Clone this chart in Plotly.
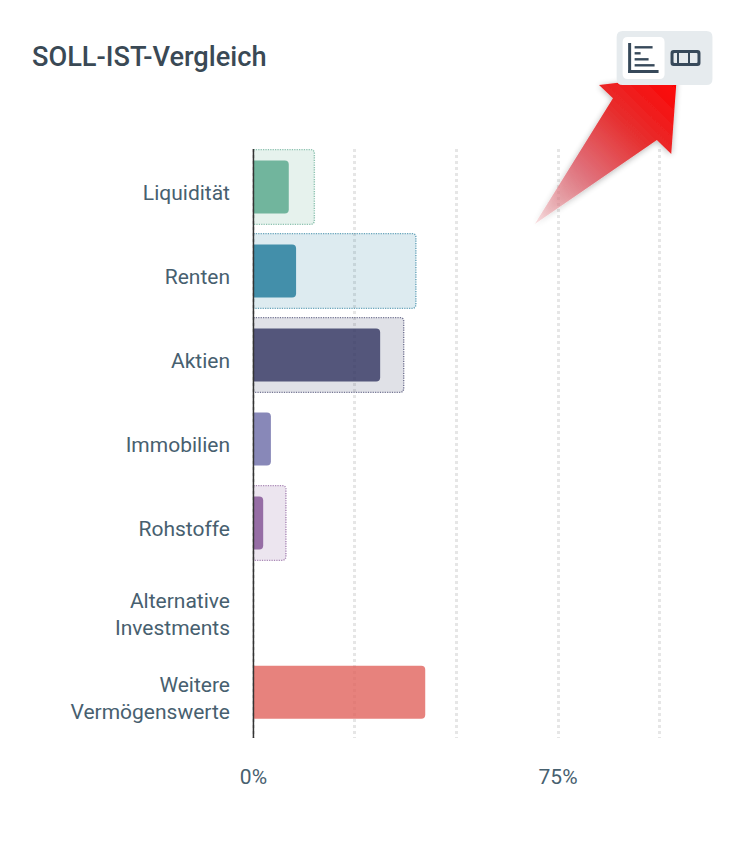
import base64
import plotly.graph_objects as go

# Asset classes, target shares and actual shares in percent
categories = ["Liquidität", "Renten", "Aktien", "Immobilien", "Rohstoffe",
              "Alternative<br>Investments", "Weitere<br>Vermögenswerte"]
soll_values = [15, 40, 37, 0, 8, 0, 0]
ist_values = [8.7, 10.5, 31.2, 4.3, 2.4, 0, 42.3]
base_colors = [(84, 165, 136), (29, 120, 153), (49, 51, 96), (106, 106, 166),
               (129, 79, 146), (120, 120, 120), (225, 99, 93)]
tick_positions = [0, 25, 50, 75, 100]
tick_labels = ["0%", "", "", "75%", ""]
# Rows with two-line labels sit slightly further apart
row_positions = [0, 1, 2, 3, 4, 5.01, 6.015]

W, H = 739, 841
PX_PER_X = 4.07
X_MIN, X_MAX = -0.6, 100.6
LEFT, RIGHT = 253 + X_MIN * PX_PER_X, 253 + X_MAX * PX_PER_X
TOP, BOTTOM = 149, 738
Y_RANGE = [(BOTTOM - 187) / 84, (TOP - 187) / 84]
TEXT = "#47606f"
DARK = "#37495a"


def rgba(c, a):
    return f"rgba({c[0]},{c[1]},{c[2]},{a})"


def px(x):
    return (x - LEFT) / (RIGHT - LEFT)


def py(y):
    return (BOTTOM - y) / (BOTTOM - TOP)


def soll_outline(i, value, half=0.445, radius=3):
    """Open rounded outline of a target bar, starting and ending on the axis."""
    rx, ry = radius / PX_PER_X, radius / 84
    t, b = i - half, i + half
    xs = [0, value - rx, value - rx * 0.3, value, value, value - rx * 0.3, value - rx, 0]
    ys = [t, t, t + ry * 0.3, t + ry, b - ry, b - ry * 0.3, b, b]
    return xs, ys


def panel(x0, y0, x1, y1, r, fill):
    """Rounded rectangle in paper coordinates, given in page pixels."""
    def p(x, y):
        return f"{px(x):.5f},{py(y):.5f}"
    path = (f"M {p(x0 + r, y0)} L {p(x1 - r, y0)} Q {p(x1, y0)} {p(x1, y0 + r)} "
            f"L {p(x1, y1 - r)} Q {p(x1, y1)} {p(x1 - r, y1)} L {p(x0 + r, y1)} "
            f"Q {p(x0, y1)} {p(x0, y1 - r)} L {p(x0, y0 + r)} Q {p(x0, y0)} {p(x0 + r, y0)} Z")
    return dict(type="path", xref="paper", yref="paper", path=path, fillcolor=fill,
                line=dict(width=0), layer="above")


def stroke(x0, y0, x1, y1, width=3):
    return dict(type="line", xref="paper", yref="paper", x0=px(x0), y0=py(y0), x1=px(x1), y1=py(y1),
                line=dict(color=DARK, width=width), layer="above")


fig = go.Figure()

fig.add_bar(y=row_positions, x=soll_values, orientation="h", width=0.89,
            marker=dict(color=[rgba(c, 0.15) for c in base_colors], line_width=0, cornerradius=4),
            hoverinfo="skip", showlegend=False)

for pos, value, color in zip(row_positions, soll_values, base_colors):
    if value > 0:
        xs, ys = soll_outline(pos, value)
        fig.add_scatter(x=xs, y=ys, mode="lines", hoverinfo="skip", showlegend=False,
                        line=dict(color=rgba(color, 0.65), width=1.4, dash="1.2px,1.2px"))

# Actual shares live on an overlaying axis so each bar keeps its own rounded end
fig.add_bar(y=row_positions, x=ist_values, orientation="h", width=0.63, yaxis="y2",
            marker=dict(color=[rgba(c, 0.8) for c in base_colors], line_width=0, cornerradius=4),
            hoverinfo="skip", showlegend=False)

shapes = [
    # Axis line at zero
    dict(type="line", xref="x", yref="paper", x0=0, x1=0, y0=0, y1=1,
         line=dict(color="#333333", width=1.5), layer="above"),
    panel(617, 31, 713, 85, 6, "#e6ebee"),
    panel(623, 37, 665, 79, 5, "#ffffff"),
    # Bar chart icon
    stroke(630, 43, 630, 73),
    stroke(628.5, 71.5, 659, 71.5),
    stroke(635, 47.3, 653, 47.3, 2.4),
    stroke(635, 53.3, 641, 53.3, 2.4),
    stroke(635, 59.3, 649, 59.3, 2.4),
    stroke(635, 65.3, 655, 65.3, 2.4),
    # Stacked bar icon
    panel(671, 50, 701, 66, 3, DARK),
    panel(674, 53, 698, 63, 1, "#e6ebee"),
    stroke(678.5, 52, 678.5, 64, 2),
    stroke(689.5, 52, 689.5, 64, 2),
]

# Pointer overlay with a fading tail and a soft shadow
arrow_svg = """<svg xmlns="http://www.w3.org/2000/svg" width="200" height="200" viewBox="520 50 200 200">
<defs>
<linearGradient id="g" gradientUnits="userSpaceOnUse" x1="677" y1="76" x2="535" y2="224">
<stop offset="0" stop-color="#ff0000"/>
<stop offset="0.35" stop-color="#e63030"/>
<stop offset="0.65" stop-color="#e0707a"/>
<stop offset="1" stop-color="#e88a92" stop-opacity="0.25"/>
</linearGradient>
<filter id="s" x="-20%" y="-20%" width="140%" height="140%">
<feGaussianBlur in="SourceAlpha" stdDeviation="3"/>
<feOffset dx="0" dy="1"/>
<feComponentTransfer><feFuncA type="linear" slope="0.3"/></feComponentTransfer>
<feMerge><feMergeNode/><feMergeNode in="SourceGraphic"/></feMerge>
</filter>
</defs>
<polygon filter="url(#s)" fill="url(#g)" points="677.3,75.7 599.3,85 613.3,98.3 535,224 657.3,140 671.7,154"/>
</svg>"""
arrow_src = "data:image/svg+xml;base64," + base64.b64encode(arrow_svg.encode()).decode()

fig.update_layout(
    width=W, height=H, margin=dict(l=LEFT, r=W - RIGHT, t=TOP, b=H - BOTTOM, autoexpand=False),
    paper_bgcolor="white", plot_bgcolor="white", barmode="overlay",
    font=dict(family="Roboto, sans-serif", size=21, color=TEXT),
    shapes=shapes,
    images=[dict(source=arrow_src, xref="paper", yref="paper", x=px(520), y=py(50),
                 sizex=200 / (RIGHT - LEFT), sizey=200 / (BOTTOM - TOP),
                 xanchor="left", yanchor="top", sizing="stretch", layer="above")],
    annotations=[dict(text="SOLL-IST-Vergleich", xref="paper", yref="paper",
                      x=px(29.5), y=py(57), xanchor="left", yanchor="middle", showarrow=False,
                      font=dict(family="Roboto, sans-serif", size=27.2, weight=500, color="#3a4955"))],
    xaxis=dict(range=[X_MIN, X_MAX], tickmode="array", tickvals=tick_positions, ticktext=tick_labels,
               showgrid=True, griddash="dot", gridwidth=3, gridcolor="#e6e6e6",
               zeroline=False, showline=False, ticks="outside", ticklen=20, tickcolor="rgba(0,0,0,0)",
               tickfont=dict(size=21, color=TEXT)),
    yaxis=dict(range=Y_RANGE, tickmode="array", tickvals=row_positions, ticktext=categories,
               showgrid=False, zeroline=False, showline=False,
               ticks="", ticklabelstandoff=20, ticklabelshift=-6,
               tickfont=dict(size=21, color=TEXT)),
    yaxis2=dict(range=Y_RANGE, overlaying="y", visible=False, showgrid=False, zeroline=False),
)

fig.write_html("out.html", config=dict(displayModeBar=False))
